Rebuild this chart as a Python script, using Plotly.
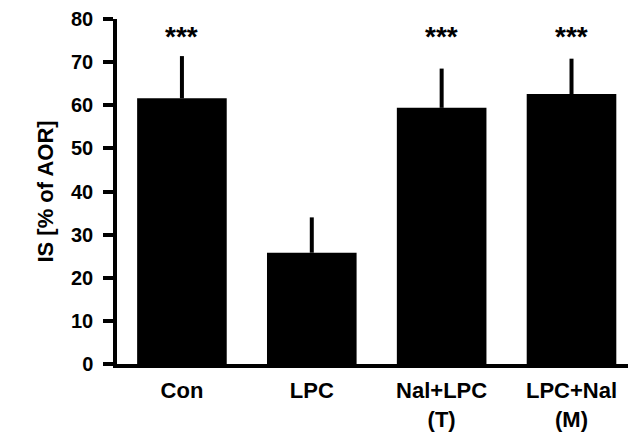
import plotly.graph_objects as go

categories = ["Con", "LPC", "Nal+LPC<br>(T)", "LPC+Nal<br>(M)"]
values = [61.6, 25.8, 59.4, 62.6]
errors = [9.8, 8.2, 9.1, 8.2]
significance = ["***", "", "***", "***"]
y_ticks = [0, 10, 20, 30, 40, 50, 60, 70, 80]

FONT = "Liberation Sans, Arial, Helvetica, sans-serif"

fig = go.Figure()
fig.add_trace(go.Bar(
    x=list(range(len(categories))),
    y=values,
    width=0.69,
    marker=dict(color="black", line=dict(width=0)),
    error_y=dict(type="data", array=errors, arrayminus=[0]*len(errors),
                 symmetric=False, color="black", thickness=4, width=0),
))

for i, s in enumerate(significance):
    if s:
        fig.add_annotation(x=i, y=75.9, text="<b>" + s + "</b>", showarrow=False,
                           font=dict(family=FONT, size=28, color="black"),
                           xanchor="center", yanchor="middle")

fig.update_layout(
    width=628, height=432,
    margin=dict(l=117, r=0, t=19, b=66, pad=0),
    paper_bgcolor="white", plot_bgcolor="white",
    showlegend=False,
    font=dict(family=FONT, color="black"),
    xaxis=dict(
        range=[-0.5, 3.435],
        tickmode="array",
        tickvals=list(range(len(categories))),
        ticktext=["<b>" + c + "</b>" for c in categories],
        tickfont=dict(family=FONT, size=22, color="black"),
        showline=True, linecolor="black", linewidth=3.5,
        ticks="", showgrid=False, zeroline=False,
        ticklabelstandoff=4,
    ),
    yaxis=dict(
        range=[0, 80],
        tickmode="array",
        tickvals=y_ticks,
        ticktext=["<b>%d</b>" % v for v in y_ticks],
        tickfont=dict(family=FONT, size=20, color="black"),
        showline=True, linecolor="black", linewidth=3.5,
        ticks="outside", ticklen=10, tickwidth=3.5, tickcolor="black",
        showgrid=False, zeroline=False,
        ticklabelstandoff=6,
        title=dict(text="<b>IS [% of AOR]</b>",
                   font=dict(family=FONT, size=22, color="black"), standoff=12),
    ),
)

fig.write_html("out.html", config={"displayModeBar": False},
               post_script="document.body.style.margin='0';document.body.style.padding='0';")
